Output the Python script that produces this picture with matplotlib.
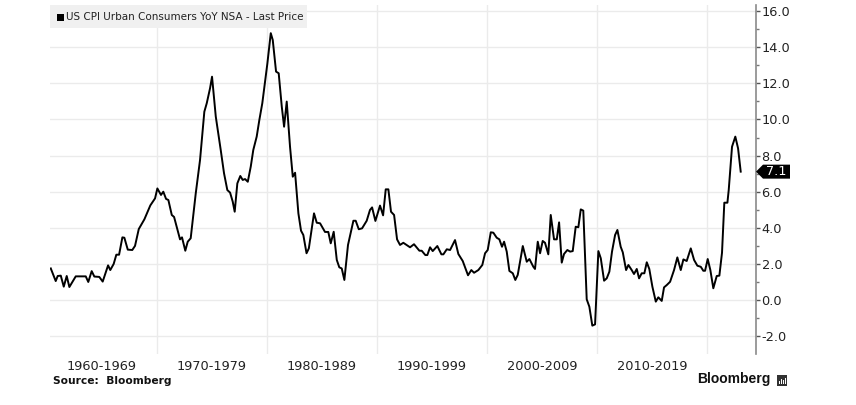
import matplotlib
matplotlib.use("Agg")
import matplotlib.pyplot as plt
from matplotlib.patches import Rectangle, Polygon
import numpy as np

# ---------------- data ----------------
dates = [
    1960.34, 1960.79, 1960.97, 1961.25, 1961.52, 1961.79, 1962.03, 1962.61, 1963.52, 1963.75,
    1964.06, 1964.30, 1964.75, 1965.06, 1965.55, 1965.75, 1966.06, 1966.30, 1966.55, 1966.85,
    1967.03, 1967.34, 1967.75, 1968.00, 1968.34, 1968.85, 1969.39, 1969.82, 1970.03, 1970.36,
    1970.57, 1970.82, 1971.03, 1971.34, 1971.55, 1972.09, 1972.27, 1972.57, 1972.79, 1973.06,
    1973.52, 1973.91, 1974.30, 1974.52, 1974.82, 1975.00, 1975.34, 1975.79, 1976.09, 1976.39,
    1976.64, 1976.88, 1977.06, 1977.30, 1977.57, 1977.79, 1978.00, 1978.25, 1978.52, 1978.75,
    1979.06, 1979.30, 1979.57, 1979.82, 1980.03, 1980.34, 1980.52, 1980.82, 1981.06, 1981.34,
    1981.55, 1981.79, 1982.09, 1982.34, 1982.55, 1982.85, 1983.09, 1983.30, 1983.59, 1983.80,
    1984.27, 1984.52, 1984.82, 1985.27, 1985.57, 1985.79, 1986.06, 1986.34, 1986.57, 1986.79,
    1987.03, 1987.36, 1987.85, 1988.06, 1988.34, 1988.64, 1989.06, 1989.36, 1989.55, 1989.85,
    1990.27, 1990.55, 1990.79, 1991.03, 1991.27, 1991.55, 1991.82, 1992.09, 1992.39, 1993.00,
    1993.36, 1993.85, 1994.06, 1994.39, 1994.57, 1994.82, 1995.06, 1995.48, 1995.85, 1996.03,
    1996.34, 1996.64, 1997.09, 1997.39, 1997.79, 1998.27, 1998.57, 1998.82, 1999.21, 1999.57,
    1999.82, 2000.06, 2000.34, 2000.57, 2000.88, 2001.12, 2001.36, 2001.55, 2001.79, 2002.03,
    2002.34, 2002.57, 2002.79, 2003.25, 2003.61, 2003.85, 2004.21, 2004.36, 2004.61, 2004.82,
    2005.06, 2005.27, 2005.57, 2005.79, 2006.09, 2006.34, 2006.55, 2006.79, 2007.00, 2007.30,
    2007.55, 2007.79, 2008.06, 2008.30, 2008.52, 2008.75, 2009.06, 2009.30, 2009.57, 2009.82,
    2010.12, 2010.34, 2010.64, 2010.88, 2011.12, 2011.36, 2011.64, 2011.85, 2012.15, 2012.34,
    2012.64, 2012.85, 2013.15, 2013.36, 2013.61, 2013.82, 2014.06, 2014.30, 2014.52, 2014.75,
    2015.03, 2015.34, 2015.57, 2015.88, 2016.09, 2016.34, 2016.64, 2017.00, 2017.30, 2017.61,
    2017.85, 2018.15, 2018.52, 2018.82, 2019.12, 2019.43, 2019.66, 2019.82, 2020.06, 2020.30,
    2020.57, 2020.88, 2021.12, 2021.36, 2021.57, 2021.85, 2021.97, 2022.27, 2022.57, 2022.82,
    2023.06,
]
cpi_yoy = [
    1.75, 1.05, 1.33, 1.35, 0.74, 1.33, 0.72, 1.31, 1.31, 1.00,
    1.60, 1.30, 1.28, 1.02, 1.92, 1.66, 2.00, 2.51, 2.51, 3.47,
    3.45, 2.79, 2.77, 3.00, 3.93, 4.47, 5.24, 5.63, 6.18, 5.82,
    6.00, 5.60, 5.54, 4.71, 4.60, 3.36, 3.47, 2.73, 3.23, 3.42,
    5.91, 7.76, 10.43, 10.90, 11.73, 12.37, 10.16, 8.31, 7.02, 6.09,
    5.95, 5.45, 4.89, 6.46, 6.87, 6.65, 6.70, 6.55, 7.39, 8.31,
    9.05, 9.97, 10.90, 12.10, 13.10, 14.78, 14.40, 12.65, 12.56, 10.71,
    9.60, 10.99, 8.49, 6.83, 7.05, 4.80, 3.84, 3.60, 2.59, 2.86,
    4.80, 4.28, 4.25, 3.77, 3.77, 3.14, 3.78, 2.22, 1.81, 1.75,
    1.11, 3.05, 4.39, 4.39, 3.92, 3.97, 4.39, 4.99, 5.13, 4.38,
    5.23, 4.69, 6.13, 6.13, 4.89, 4.71, 3.36, 3.05, 3.17, 2.92,
    3.09, 2.73, 2.73, 2.49, 2.49, 2.92, 2.71, 2.99, 2.53, 2.53,
    2.81, 2.77, 3.32, 2.55, 2.16, 1.37, 1.66, 1.51, 1.66, 1.94,
    2.59, 2.77, 3.75, 3.73, 3.45, 3.36, 2.95, 3.23, 2.68, 1.61,
    1.48, 1.11, 1.39, 2.99, 2.12, 2.27, 1.84, 1.72, 3.23, 2.59,
    3.27, 3.17, 2.53, 4.71, 3.36, 3.36, 4.30, 2.07, 2.55, 2.77,
    2.68, 2.71, 4.06, 4.03, 5.02, 4.95, 0.04, -0.37, -1.42, -1.35,
    2.71, 2.31, 1.07, 1.20, 1.57, 2.68, 3.60, 3.88, 2.95, 2.64,
    1.66, 1.94, 1.66, 1.44, 1.72, 1.20, 1.48, 1.48, 2.09, 1.72,
    0.74, -0.09, 0.15, -0.05, 0.70, 0.83, 1.01, 1.66, 2.36, 1.66,
    2.25, 2.16, 2.86, 2.22, 1.90, 1.84, 1.62, 1.62, 2.27, 1.66,
    0.65, 1.33, 1.35, 2.62, 5.39, 5.39, 6.09, 8.49, 9.05, 8.40,
    7.11,
]
decade_bounds = [1970, 1980, 1990, 2000, 2010, 2020]
decade_centers = [1965, 1975, 1985, 1995, 2005, 2015]
decade_labels = ["1960-1969", "1970-1979", "1980-1989", "1990-1999", "2000-2009", "2010-2019"]
y_ticks = [-2, 0, 2, 4, 6, 8, 10, 12, 14, 16]
legend_label = "US CPI Urban Consumers YoY NSA - Last Price"
source_text = "Source:  Bloomberg"
last_value = cpi_yoy[-1]

# ---------------- figure ----------------
W, H = 856, 405
fig = plt.figure(figsize=(W / 100, H / 100), dpi=100)
fig.patch.set_facecolor("white")

ax_l, ax_r, ax_t, ax_b = 50, 756, 5, 354
ax = fig.add_axes([ax_l / W, 1 - ax_b / H, (ax_r - ax_l) / W, (ax_b - ax_t) / H])
xmin, xmax = 1960.27, 2024.45
ymin, ymax = -2.99, 16.34
ax.set_xlim(xmin, xmax)
ax.set_ylim(ymin, ymax)

grid_c = "#ebebeb"
for v in y_ticks:
    ax.axhline(v, color=grid_c, lw=1.0, zorder=0)
for d in decade_bounds:
    ax.axvline(d, color=grid_c, lw=1.0, zorder=0)

ax.plot(dates, cpi_yoy, color="black", lw=1.4, zorder=3)

for s in ["top", "left", "bottom"]:
    ax.spines[s].set_visible(False)
ax.spines["right"].set_color("#8a8a8a")
ax.spines["right"].set_linewidth(1.2)

ax.yaxis.tick_right()
ax.set_yticks(y_ticks)
ax.set_yticklabels([f"{v:.1f}" for v in y_ticks])
ax.set_yticks([v + 1 for v in y_ticks[:-1]], minor=True)
ax.tick_params(axis="y", which="major", direction="out", length=3, width=1,
               color="#555555", labelsize=9.3, labelcolor="#222222", pad=1)
ax.tick_params(axis="y", which="minor", direction="out", length=2, width=1, color="#777777")

ax.set_xticks(decade_centers)
ax.set_xticklabels(decade_labels)
ax.tick_params(axis="x", length=0, labelsize=9.3, labelcolor="#222222", pad=4)

# legend box
fig.patches.append(Rectangle((50 / W, 1 - 28 / H), (307 - 50) / W, 23 / H,
                             transform=fig.transFigure, facecolor="#f0f0f0",
                             edgecolor="none", zorder=5))
fig.patches.append(Rectangle((57 / W, 1 - 21 / H), 7.5 / W, 7.5 / H,
                             transform=fig.transFigure, facecolor="black",
                             edgecolor="none", zorder=6))
fig.text(66 / W, 1 - 17 / H, legend_label, fontsize=7.5, color="#222222",
         va="center", ha="left", zorder=7)

# last value tag
y_frac = (last_value - ymin) / (ymax - ymin)
tip_x = ax_r
tip_y = ax_b - y_frac * (ax_b - ax_t)
tag = [(tip_x, tip_y), (tip_x + 7, tip_y - 7), (tip_x + 34, tip_y - 7),
       (tip_x + 34, tip_y + 7), (tip_x + 7, tip_y + 7)]
fig.patches.append(Polygon([(px / W, 1 - py / H) for px, py in tag], closed=True,
                           transform=fig.transFigure, facecolor="black",
                           edgecolor="none", zorder=8))
fig.text((tip_x + 20.5) / W, 1 - tip_y / H, f"{last_value:.1f}", color="white",
         fontsize=9.3, ha="center", va="center", zorder=9)

# footer
fig.text(53 / W, 1 - 381 / H, source_text, fontsize=7.7, fontweight="bold",
         color="#111111", ha="left", va="center")
fig.text(770 / W, 1 - 379 / H, "Bloomberg", fontsize=10, fontweight="bold",
         family="Liberation Sans", color="#111111", ha="right", va="center")
fig.patches.append(Rectangle((777 / W, 1 - 386 / H), 10 / W, 11 / H,
                             transform=fig.transFigure, facecolor="#333333",
                             edgecolor="none"))
for i, hgt in enumerate([3, 5, 4, 6]):
    fig.patches.append(Rectangle(((778.5 + i * 2) / W, 1 - 383.5 / H), 1.2 / W, hgt / H,
                                 transform=fig.transFigure, facecolor="white",
                                 edgecolor="none"))

fig.savefig("out.png", dpi=100)
